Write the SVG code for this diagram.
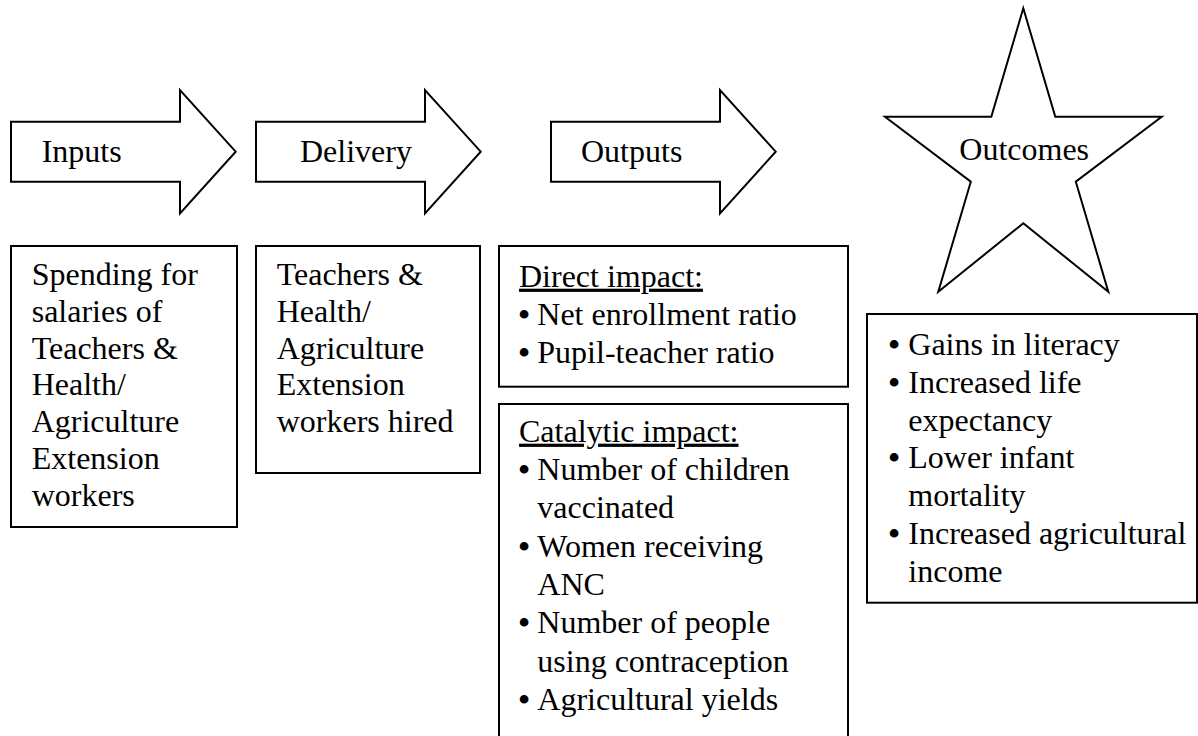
<svg xmlns="http://www.w3.org/2000/svg" width="1198" height="736" viewBox="0 0 1198 736">
  <style>
    .shape { fill: #ffffff; stroke: #000000; stroke-width: 2; stroke-linejoin: miter; }
    text { font-family: 'Liberation Serif', Tinos, 'Times New Roman', 'DejaVu Serif', serif; font-size: 32px; fill: #000000; }
    .b { text-anchor: middle; font-weight: bold; }
    .u { text-decoration: underline; }
  </style>
  <rect width="1198" height="736" fill="#ffffff"/>

  <!-- stage arrows -->
  <g id="inputs">
    <polygon class="shape" points="11,121.7 180,121.7 180,90 235.7,151.7 180,213.4 180,181.7 11,181.7"/>
    <text x="41.7" y="161.7">Inputs</text>
  </g>
  <g id="delivery">
    <polygon class="shape" points="256,121.7 425,121.7 425,90 480.7,151.7 425,213.4 425,181.7 256,181.7"/>
    <text x="300" y="161.7">Delivery</text>
  </g>
  <g id="outputs">
    <polygon class="shape" points="551,121.7 720,121.7 720,90 775.7,151.7 720,213.4 720,181.7 551,181.7"/>
    <text x="581" y="161.7">Outputs</text>
  </g>
  <g id="outcomes">
    <polygon class="shape" points="1023.3,8.3 1055.3,116.7 1161.7,116.7 1075.8,181.7 1108.3,291.7 1023.3,223.3 938.3,291.7 970.8,181.7 885,116.7 991.3,116.7"/>
    <text x="959.3" y="160">Outcomes</text>
  </g>

  <!-- detail boxes -->
  <g id="inputs-detail">
    <rect class="shape" x="11" y="246" width="226" height="281"/>
    <text x="31.7" y="285">Spending for</text>
    <text x="31.7" y="321.8">salaries of</text>
    <text x="31.7" y="358.6">Teachers &amp;</text>
    <text x="31.7" y="395.4">Health/</text>
    <text x="31.7" y="432.2">Agriculture</text>
    <text x="31.7" y="469">Extension</text>
    <text x="31.7" y="505.8">workers</text>
  </g>

  <g id="delivery-detail">
    <rect class="shape" x="256" y="246" width="224" height="227"/>
    <text x="276.7" y="285">Teachers &amp;</text>
    <text x="276.7" y="321.8">Health/</text>
    <text x="276.7" y="358.6">Agriculture</text>
    <text x="276.7" y="395.4">Extension</text>
    <text x="276.7" y="432.2">workers hired</text>
  </g>

  <g id="direct-impact">
    <rect class="shape" x="499" y="246" width="349" height="140.7"/>
    <text class="u" x="519" y="286.7">Direct impact:</text>
    <text class="b" x="524" y="325">•</text>
    <text x="537.3" y="325">Net enrollment ratio</text>
    <text class="b" x="524" y="363.3">•</text>
    <text x="537.3" y="363.3">Pupil-teacher ratio</text>
  </g>

  <g id="catalytic-impact">
    <rect class="shape" x="499" y="404" width="349" height="340"/>
    <text class="u" x="519" y="441.7">Catalytic impact:</text>
    <text class="b" x="524" y="480">•</text>
    <text x="537.3" y="480">Number of children</text>
    <text x="537.3" y="518.3">vaccinated</text>
    <text class="b" x="524" y="556.6">•</text>
    <text x="537.3" y="556.6">Women receiving</text>
    <text x="537.3" y="594.9">ANC</text>
    <text class="b" x="524" y="633.2">•</text>
    <text x="537.3" y="633.2">Number of people</text>
    <text x="537.3" y="671.5">using contraception</text>
    <text class="b" x="524" y="709.8">•</text>
    <text x="537.3" y="709.8">Agricultural yields</text>
  </g>

  <g id="outcomes-detail">
    <rect class="shape" x="867" y="314" width="330" height="288.7"/>
    <text class="b" x="894" y="355">•</text>
    <text x="908.3" y="355">Gains in literacy</text>
    <text class="b" x="894" y="392.8">•</text>
    <text x="908.3" y="392.8">Increased life</text>
    <text x="908.3" y="430.6">expectancy</text>
    <text class="b" x="894" y="468.4">•</text>
    <text x="908.3" y="468.4">Lower infant</text>
    <text x="908.3" y="506.2">mortality</text>
    <text class="b" x="894" y="544">•</text>
    <text x="908.3" y="544">Increased agricultural</text>
    <text x="908.3" y="581.8">income</text>
  </g>

  <!-- no separate connectors: the stage arrows carry the flow -->
  <g id="connectors"/>
</svg>
